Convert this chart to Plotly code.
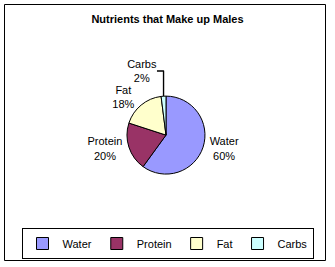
import plotly.graph_objects as go

labels = ["Water", "Protein", "Fat", "Carbs"]
values = [60, 20, 18, 2]
colors = ["#9999FF", "#993366", "#FFFFCC", "#CCFFFF"]
title_text = "Nutrients that Make up Males"

FONT = "Liberation Sans, Arial, sans-serif"

fig = go.Figure(go.Pie(
    labels=labels,
    values=values,
    sort=False,
    direction="clockwise",
    rotation=0,
    marker=dict(colors=colors, line=dict(color="black", width=1)),
    textposition="outside",
    texttemplate="%{label}<br>%{percent:.0%}",
    textfont=dict(family=FONT, size=11, color="black"),
    domain=dict(x=[0.379, 0.612], y=[0.348, 0.640]),
    showlegend=True,
    hoverinfo="skip",
))

fig.update_layout(
    width=335, height=267,
    margin=dict(l=0, r=0, t=0, b=0),
    paper_bgcolor="white",
    plot_bgcolor="white",
    title=dict(text="<b>" + title_text + "</b>", x=0.5, xanchor="center",
               y=1 - 19.5 / 267, yanchor="middle",
               font=dict(family=FONT, size=11, color="black")),
    legend=dict(orientation="h", x=0.5, xanchor="center", y=1 - 243.5 / 267, yanchor="middle",
                bordercolor="black", borderwidth=1, bgcolor="white",
                font=dict(family=FONT, size=11, color="black"),
                itemwidth=30, tracegroupgap=0),
    shapes=[dict(type="rect", xref="paper", yref="paper",
                 x0=4.5 / 335, x1=325.5 / 335, y0=1 - 260.5 / 267, y1=1 - 4.5 / 267,
                 line=dict(color="black", width=1), fillcolor="rgba(0,0,0,0)")],
)

fig.write_html("out.html")
